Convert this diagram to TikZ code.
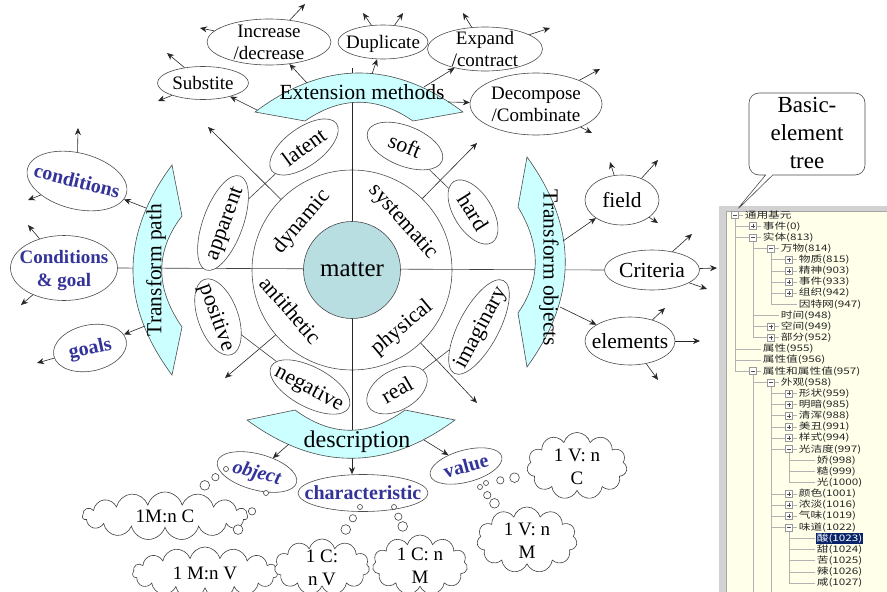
\documentclass[tikz,border=0pt]{standalone}
\usepackage{fontspec}
\setmainfont{Liberation Serif}
\newfontfamily\cjk[FakeStretch=1.3]{Noto Sans CJK SC}
\usepackage{tikz}
\usetikzlibrary{positioning,arrows.meta,shapes.geometric,shapes.symbols,shapes.callouts}

\definecolor{bandcyan}{HTML}{CCFFFF}
\definecolor{mattercol}{HTML}{B8DEE2}
\definecolor{labelblue}{HTML}{333399}
\definecolor{treebg}{HTML}{FFFFEA}
\definecolor{treesel}{HTML}{0A246A}

\newcommand{\fsz}[2]{\fontsize{#1}{#2}\selectfont}
\newcommand{\zt}[1]{\raisebox{-.33em}[0pt][0pt]{\makebox[0pt]{#1}}}
\newcommand{\zz}[2]{\zt{\begin{tabular}{@{}c@{}}#1\\#2\end{tabular}}}

\begin{document}
\begin{tikzpicture}[x=1pt, y=-1pt,
    oval/.style={ellipse, draw=black!70, fill=white, inner sep=0pt, line width=0.6pt, font=\fsz{19}{22}},
    ringoval/.style={oval, font=\fsz{22}{24}},
    sideoval/.style={oval, font=\fsz{21.5}{24}},
    blueoval/.style={oval, text=labelblue, font=\fsz{20}{23}\bfseries},
    band/.style={fill=bandcyan, draw=black!70, line width=0.6pt},
    arr/.style={-{Stealth[length=7pt, width=6pt]}, line width=0.6pt, black!85},
    conn/.style={line width=0.6pt, black!75},
    thought/.style={cloud callout, draw=black!75, fill=white, line width=0.6pt, cloud puffs=15, aspect=2, inner sep=0pt, callout pointer segments=3, callout pointer start size=24pt and 12pt, callout pointer end size=10pt and 5pt, font=\fsz{19}{23}},
    treeline/.style={gray!60, line width=0.5pt},
    treetxt/.style={anchor=west, inner sep=0.6pt, font=\cjk\fsz{9}{10}, text=black!85}]

    \useasboundingbox (0,0) rectangle (887,592);

    % Metodi di estensione (in alto)
    \node[oval, minimum width=91, minimum height=33] (subst) at (203,83) {\zt{Substite}};
    \node[oval, minimum width=124, minimum height=46] (incr) at (269,42) {\zz{Increase}{/decrease}};
    \node[oval, minimum width=90, minimum height=34] (dupl) at (383,42) {\zt{Duplicate}};
    \node[oval, minimum width=115, minimum height=44] (expa) at (485,49) {\zz{Expand}{/contract}};
    \node[oval, minimum width=132, minimum height=62] (deco) at (536,104) {\zz{Decompose}{/Combinate}};

    % Percorso di trasformazione (a sinistra)
    \node[blueoval, minimum width=102, minimum height=56, rotate=-14] (cond) at (77,181) {\zt{conditions}};
    \node[blueoval, minimum width=107, minimum height=65, font=\fsz{19}{23}\bfseries] (cg) at (64,268) {\zz{Conditions}{\& goal}};
    \node[blueoval, minimum width=74, minimum height=46, rotate=12] (goals) at (90,348) {\zt{goals}};

    % Oggetti di trasformazione (a destra)
    \node[sideoval, minimum width=74, minimum height=50] (field) at (622,200) {\zt{field}};
    \node[sideoval, minimum width=95, minimum height=40] (crit) at (652,270) {\zt{Criteria}};
    \node[sideoval, minimum width=90, minimum height=48] (elem) at (630,341) {\zt{elements}};

    % Descrizione (in basso)
    \node[blueoval, minimum width=82, minimum height=36, rotate=-15, font=\fsz{20}{23}\bfseries\itshape] (obj) at (257,472) {\zt{object}};
    \node[blueoval, minimum width=130, minimum height=37] (char) at (363,493) {\zt{characteristic}};
    \node[blueoval, minimum width=74, minimum height=32, rotate=15] (value) at (466,466) {\zt{value}};

    % Anello e assi
    \node[circle, draw=black!70, line width=0.6pt, minimum size=200, inner sep=0pt] (ring) at (352,270) {};
    \coordinate (vtop) at (352,68);
    \coordinate (tl) at (208,127);
    \coordinate (tr) at (477,143);
    \coordinate (br) at (477,403);
    \coordinate (bl) at (225,378);
    \draw[conn] (cg.east) -- (crit.west);
    \draw[arr] (vtop) -- (vtop |- char.north);
    \foreach \d in {tl,tr,br,bl}
        \draw[arr] (ring) -- (\d);

    % Nodo centrale
    \node[circle, draw=black!70, line width=0.6pt, fill=mattercol, minimum size=97, inner sep=0pt, font=\fsz{25}{28}] (matter) at (352,270) {matter};

    % Settori dell'anello
    \node[font=\fsz{22}{24}, rotate=50] (dyn) at (302,222) {dynamic};
    \node[font=\fsz{22}{24}, rotate=-48] (sys) at (403,222) {systematic};
    \node[font=\fsz{22}{24}, rotate=-49] (anti) at (291,310) {antithetic};
    \node[font=\fsz{22}{24}, rotate=40] (phys) at (402,328) {physical};

    % Coppie di ellissi attorno all'anello
    \node[ringoval, minimum width=80, minimum height=38, rotate=36] (latent) at (304,147) {\zt{latent}};
    \node[ringoval, minimum width=100, minimum height=40, rotate=70] (appar) at (223,223) {\zt{apparent}};
    \node[ringoval, minimum width=80, minimum height=40, rotate=-22] (soft) at (405,146) {\zt{soft}};
    \node[ringoval, minimum width=72, minimum height=38, rotate=-58] (hard) at (473,212) {\zt{hard}};
    \node[ringoval, minimum width=105, minimum height=40, rotate=62] (imag) at (479,327) {\zt{imaginary}};
    \node[ringoval, minimum width=66, minimum height=40, rotate=30] (real) at (397,390) {\zt{real}};
    \node[ringoval, minimum width=88, minimum height=40, rotate=-28] (neg) at (310,387) {\zt{negative}};
    \node[ringoval, minimum width=80, minimum height=40, rotate=-70] (posi) at (218,317) {\zt{positive}};
    \draw[conn] (latent) -- (appar);
    \draw[conn] (soft) -- (hard);
    \draw[conn] (imag) -- (real);
    \draw[conn] (neg) -- (posi);

    % Bande curve
    \draw[band] (255,112) .. controls (324,60) and (394,60) .. (463,112) -- (413,121)
        .. controls (377,96) and (341,96) .. (305,121) -- cycle;
    \draw[band] (247,420) -- (295,410) .. controls (332,437) and (368,437) .. (405,410)
        -- (455,420) .. controls (386,471) and (316,471) .. (247,420) -- cycle;
    \draw[band] (172,165) .. controls (120,235) and (120,305) .. (172,375) -- (182,327)
        .. controls (155,288) and (155,251) .. (182,216) -- cycle;
    \draw[band] (527,157) .. controls (578,227) and (578,297) .. (527,367) -- (518,313)
        .. controls (541,280) and (541,245) .. (518,207) -- cycle;
    \node[font=\fsz{21.6}{24}] (extm) at (362,92) {Extension methods};
    \node[font=\fsz{24}{26}] (desc) at (357,442) {description};
    \node[font=\fsz{21.5}{24}, rotate=90] (tpath) at (156,270) {Transform path};
    \node[font=\fsz{21.5}{24}, rotate=-90] (tobj) at (549,268) {Transform objects};

    % Frecce dalle bande
    \coordinate (ext1) at (257,110);
    \coordinate (ext2) at (307,83);
    \coordinate (ext3) at (372,74);
    \coordinate (ext4) at (424,87);
    \coordinate (ext5) at (448,102);
    \coordinate (path1) at (146,208);
    \coordinate (path2) at (145,326);
    \coordinate (obj1) at (563,241);
    \coordinate (obj2) at (560,307);
    \coordinate (desc1) at (289,444);
    \coordinate (desc2) at (424,440);
    \foreach \s/\t in {ext1/subst, ext2/incr, ext3/dupl, ext4/expa, ext5/deco,
                       path1/cond, path2/goals, obj1/field, obj2/elem,
                       desc1/obj, desc2/value}
        \draw[arr] (\s) -- (\t);

    % Frecce uscenti
    \foreach \n/\x/\y in {subst-a/167/53, subst-b/158/101, incr-a/200/28, incr-b/305/4,
                          dupl-a/363/13, dupl-b/403/13, expa-a/463/13, expa-b/550/28,
                          deco-a/600/69, deco-b/592/133, cond-a/78/128, cond-b/28/200,
                          cg-a/28/225, cg-b/21/305, goals-a/37/363,
                          field-a/610/162, field-b/658/160, field-c/658/223,
                          crit-a/692/234, crit-b/717/268, crit-c/707/289,
                          elem-a/665/308, elem-b/700/341, elem-c/658/380}
        \coordinate (\n) at (\x,\y);
    \foreach \s/\t in {subst/subst-a, subst/subst-b, incr/incr-a, incr/incr-b,
                       dupl/dupl-a, dupl/dupl-b, expa/expa-a, expa/expa-b,
                       deco/deco-a, deco/deco-b, cond/cond-a, cond/cond-b,
                       cg/cg-a, cg/cg-b, goals/goals-a,
                       field/field-a, field/field-b, field/field-c,
                       crit/crit-a, crit/crit-b, crit/crit-c,
                       elem/elem-a, elem/elem-b, elem/elem-c}
        \draw[arr] (\s) -- (\t);

    % Nuvolette
    \node[thought, minimum width=165, minimum height=48, callout absolute pointer={(226,469)}] (c1) at (165,516) {\zt{1M:n C}};
    \node[thought, minimum width=145, minimum height=52, callout absolute pointer={(266,493)}] (c2) at (205,573) {\zt{1 M:n V}};
    \node[thought, minimum width=95, minimum height=56, cloud puffs=11, callout absolute pointer={(360,507)}] (c3) at (322,567) {\zz{1 C:}{n V}};
    \node[thought, minimum width=95, minimum height=60, cloud puffs=11, callout absolute pointer={(394,507)}] (c4) at (420,565) {\zz{1 C: n}{M}};
    \node[thought, minimum width=100, minimum height=67, cloud puffs=11, callout absolute pointer={(486,483)}] (c5) at (577,466) {\zz{1 V: n}{C}};
    \node[thought, minimum width=100, minimum height=66, cloud puffs=11, callout absolute pointer={(480,487)}] (c6) at (527,540) {\zz{1 V: n}{M}};

    % Albero degli elementi di base
    \fill[gray!35] (719,206) rectangle (887,592);
    \fill[treebg] (726,211) rectangle (887,592);
    \draw[gray!70, line width=1pt] (726,592) |- (887,211);
    \foreach \xv/\ya/\yb in {735/1/15, 753/3/12, 771/4/9, 753/15/36, 771/16/36, 789/22/25, 789/29/34}
        \draw[treeline] (\xv,{215+11.15*(\ya-1)}) -- (\xv,{215+11.15*(\yb-1)});
    \foreach \rw/\lv/\bx/\tx in {1/0/m/通用基元, 2/1/p/事件(0), 3/1/m/实体(813), 4/2/m/万物(814),
            5/3/p/物质(815), 6/3/p/精神(903), 7/3/p/事件(933), 8/3/p/组织(942),
            9/3/n/因特网(947), 10/2/n/时间(948), 11/2/p/空间(949), 12/2/p/部分(952),
            13/1/n/属性(955), 14/1/n/属性值(956), 15/1/m/属性和属性值(957), 16/2/m/外观(958),
            17/3/p/形状(959), 18/3/p/明暗(985), 19/3/p/清浑(988), 20/3/p/美丑(991),
            21/3/p/样式(994), 22/3/m/光洁度(997), 23/4/n/娇(998), 24/4/n/糙(999),
            25/4/n/光(1000), 26/3/p/颜色(1001), 27/3/p/浓淡(1016), 28/3/p/气味(1019),
            29/3/m/味道(1022), 30/4/h/酸(1023), 31/4/n/甜(1024), 32/4/n/苦(1025),
            33/4/n/辣(1026), 34/4/n/咸(1027)}{
        \pgfmathsetmacro\yy{215+11.15*(\rw-1)}
        \pgfmathsetmacro\xx{735+18*\lv}
        \ifnum\lv>0
            \draw[treeline] ({\xx-18},\yy) -- ({\xx+8},\yy);
        \else
            \draw[treeline] (\xx,\yy) -- ({\xx+8},\yy);
        \fi
        \if\bx h
            \node[treetxt, fill=treesel, text=white] (e\rw) at ({\xx+9},\yy) {\tx};
        \else
            \node[treetxt] (e\rw) at ({\xx+9},\yy) {\tx};
        \fi
        \if\bx p
            \draw[gray!80, fill=white] ({\xx-3.5},{\yy-3.5}) rectangle ({\xx+3.5},{\yy+3.5});
            \draw[black!70] ({\xx-2},\yy) -- ({\xx+2},\yy) (\xx,{\yy-2}) -- (\xx,{\yy+2});
        \fi
        \if\bx m
            \draw[gray!80, fill=white] ({\xx-3.5},{\yy-3.5}) rectangle ({\xx+3.5},{\yy+3.5});
            \draw[black!70] ({\xx-2},\yy) -- ({\xx+2},\yy);
        \fi
    }

    % Fumetto
    \node[rectangle callout, draw=black!70, fill=white, line width=0.6pt, rounded corners=10, minimum width=116, minimum height=82, inner sep=0pt, font=\fsz{23}{28}, callout absolute pointer={(735,212)}] (bet) at (807,134) {\zt{\begin{tabular}{@{}c@{}}Basic-\\element\\tree\end{tabular}}};
\end{tikzpicture}
\end{document}
